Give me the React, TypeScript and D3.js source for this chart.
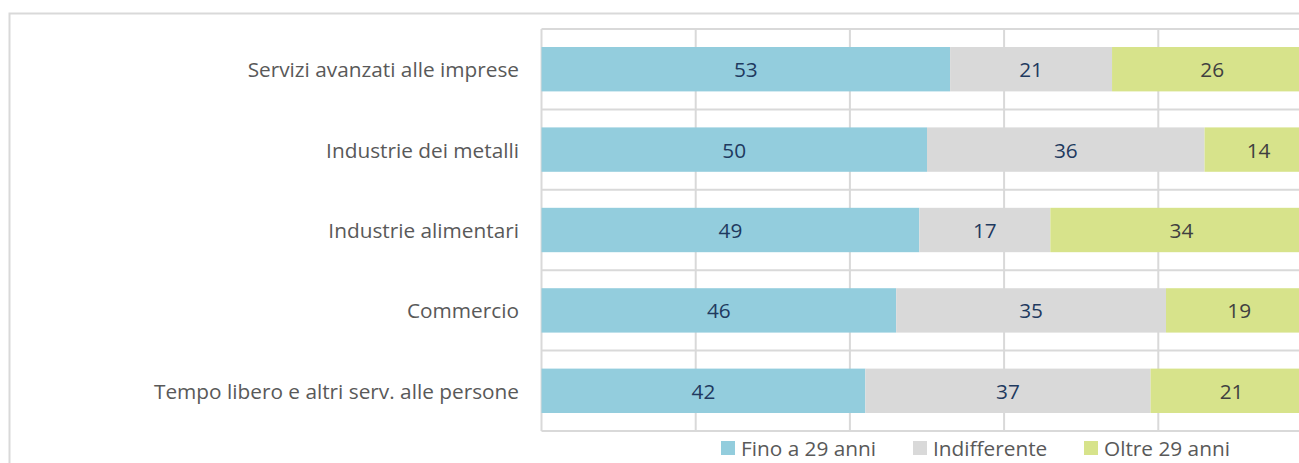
import React from "react";
import * as d3 from "d3";

const categories = [
  "Servizi avanzati alle imprese",
  "Industrie dei metalli",
  "Industrie alimentari",
  "Commercio",
  "Tempo libero e altri serv. alle persone",
];
const fino29 = [53, 50, 49, 46, 42];
const indifferente = [21, 36, 17, 35, 37];
const oltre29 = [26, 14, 34, 19, 21];
const seriesNames = ["Fino a 29 anni", "Indifferente", "Oltre 29 anni"];
const xTicks = [0, 20, 40, 60, 80, 100];

const colors = ["#93CDDD", "#D9D9D9", "#D7E38B"];
const labelColors = ["#1F3A5F", "#1F3A5F", "#404040"];

const W = 1299;
const H = 463;
const FONT = "'Open Sans', sans-serif";
const FS = 20.8;

export default function App() {
  const x = d3.scaleLinear().domain([0, 100]).range([541.5, 1312.5]);
  const y = d3
    .scaleBand<string>()
    .domain(categories)
    .range([29, 431])
    .paddingInner(0.448)
    .paddingOuter(0.224);
  const rows = categories.map((c, i) => ({
    cat: c,
    vals: [fino29[i], indifferente[i], oltre29[i]],
  }));
  const bandEdges = d3.range(categories.length + 1).map((i) => 29 + i * ((431 - 29) / categories.length));
  const legendX = [721, 913, 1084];

  return (
    <svg
      width={W}
      height={H}
      style={{ position: "absolute", left: 0, top: 0, background: "#fff" }}
      fontFamily={FONT}
    >
      <rect x={9.5} y={13.5} width={W + 20} height={H + 20} fill="#fff" stroke="#D9D9D9" strokeWidth={2} />
      {bandEdges.map((yy, i) => (
        <line key={"h" + i} x1={541.5} x2={W + 20} y1={yy} y2={yy} stroke="#D9D9D9" strokeWidth={2} />
      ))}
      {xTicks.map((t) => (
        <line key={"v" + t} x1={x(t)} x2={x(t)} y1={29} y2={431} stroke="#D9D9D9" strokeWidth={2} />
      ))}
      {rows.map((r) => {
        let acc = 0;
        const y0 = y(r.cat)!;
        return (
          <g key={r.cat}>
            {r.vals.map((v, j) => {
              const x0 = x(acc);
              acc += v;
              const x1 = x(acc);
              return (
                <g key={j}>
                  <rect x={x0} y={y0} width={x1 - x0} height={y.bandwidth()} fill={colors[j]} />
                  <text
                    x={(x0 + x1) / 2}
                    y={y0 + y.bandwidth() / 2}
                    textAnchor="middle"
                    dominantBaseline="central"
                    fontSize={FS}
                    fill={labelColors[j]}
                  >
                    {v}
                  </text>
                </g>
              );
            })}
            <text
              x={519}
              y={y0 + y.bandwidth() / 2}
              textAnchor="end"
              dominantBaseline="central"
              fontSize={FS}
              fill="#595959"
            >
              {r.cat}
            </text>
          </g>
        );
      })}
      {seriesNames.map((s, i) => (
        <g key={s}>
          <rect x={legendX[i]} y={441} width={14} height={14} fill={colors[i]} />
          <text x={legendX[i] + 20} y={448} dominantBaseline="central" fontSize={FS} fill="#595959">
            {s}
          </text>
        </g>
      ))}
    </svg>
  );
}
